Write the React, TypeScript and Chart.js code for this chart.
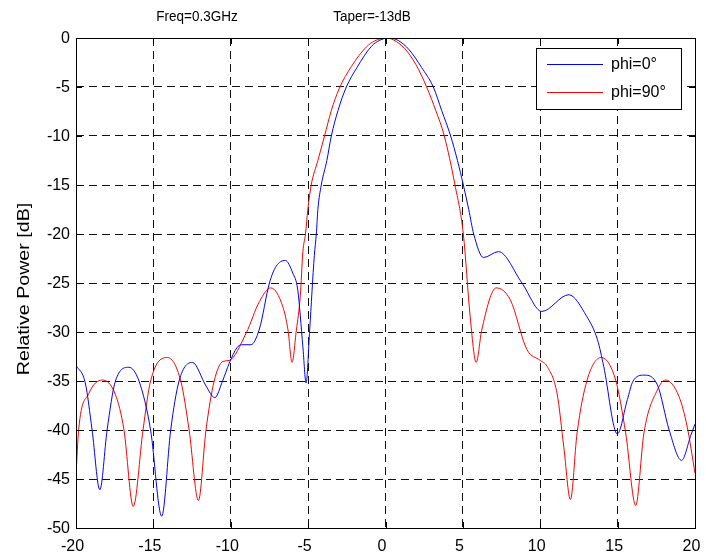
import React, { useEffect, useRef } from "react";
import { Chart, registerables } from "chart.js";

Chart.register(...registerables);

const xTickValues = [-20, -15, -10, -5, 0, 5, 10, 15, 20];
const yTickValues = [0, -5, -10, -15, -20, -25, -30, -35, -40, -45, -50];

const seriesLabels = ["phi=0°", "phi=90°"];
const titleLeft = "Freq=0.3GHz";
const titleRight = "Taper=-13dB";
const yAxisLabel = "Relative Power [dB]";

const phi0Angles = [
  -20, -19.4, -18.96, -18.46, -17.99, -17.45, -16.58, -15.93, -15.18, -14.46, -13.88, -13.34, -12.48,
  -11.6, -11.03, -10.53, -10.1, -9.6, -9.3, -8.7, -8.15, -7.5, -7.07, -6.47, -5.99, -5.67, -5.34, -5.13,
  -4.9, -4.6, -4.47, -4.37, -4.15, -3.79, -3.5, -3.07, -2.53, -1.84, -0.91, -0.37, 0.2, 0.82, 1.53, 2.33, 3.09,
  3.63, 4.21, 4.65, 5.03, 5.38, 5.7, 6.33, 7.3,
  8.82, 10.1, 11.84, 13.0, 13.7, 14.1, 14.98, 15.63, 16.0, 16.7, 17.57, 18.33, 19.13, 19.74, 20,
];
const phi0Power = [
  -33.4, -35.2, -40, -46.1, -40, -35, -33.6, -35, -40, -48.8, -40, -35, -33.1,
  -35.5, -36.7, -35, -33.2, -31.6, -31.3, -31.3, -29.7, -25.0, -23.3, -22.7, -24.0, -25.7, -31.5, -35.2,
  -29.8, -22.2, -20, -17.5, -15, -12.5, -10, -7.4, -5, -3.0, -0.85, -0.23, 0, -0.25, -1.2, -3.0, -5,
  -7.4, -10, -12.5, -15, -17.5, -20, -22.4, -21.8,
  -25.0, -27.9, -26.2, -28.4, -30.8, -33.5, -40.4, -36.9, -35, -34.4, -35.4, -40, -43.1, -40.5, -39.4,
];

const phi90Angles = [
  -20, -19.83, -19.18, -18.3, -17.45, -16.9, -16.3, -15.67, -15.18, -14.1, -13.23, -12.69, -12.09,
  -11.6, -11.07, -10.5, -10.1, -9.0, -8.15, -7.41, -6.64, -6.3, -6.04, -5.76, -5.51, -5.34, -5.17,
  -5.02, -4.8, -4.37, -3.94, -3.5, -3.0, -2.2, -1.23, -0.69, 0, 0.5, 1.25, 1.96, 2.66, 3.25, 3.8, 4.49, 5.03,
  5.47, 5.86, 6.22, 7.15, 8.06,
  9.14, 10.0, 10.44, 11.09, 11.52, 11.95, 12.38, 13.03, 13.94, 14.87, 15.52, 16.17, 16.7, 17.57, 18.1,
  18.97, 19.5, 20,
];
const phi90Power = [
  -44.6, -40, -36.3, -34.9, -36.4, -40, -47.8, -40, -35, -32.6, -35, -40, -47.2,
  -40, -35, -33.0, -32.9, -30.1, -26.9, -25.5, -27.4, -29.8, -33.1, -29.8, -26.4, -21.8, -20,
  -17.5, -15, -12.5, -10, -7.4, -5.2, -2.9, -0.9, -0.29, 0, -0.18, -1.1, -2.7, -5, -7.4, -10, -15, -20,
  -28.4, -33.1, -29.8, -25.5, -26.7,
  -31.8, -32.9, -33.5, -36.3, -41.7, -47.1, -40.3, -34.9, -32.6, -34.9, -40.3, -47.7, -40.3, -35.9, -34.9,
  -36.6, -39.7, -44.4,
];

const seriesColors = ["#0000ff", "#ff0000"];
const FONT = "'Liberation Sans', Arial, Helvetica, sans-serif";

const decorPlugin = {
  id: "decor",
  afterDraw(chart: any) {
    const { ctx, chartArea } = chart;
    const { left, right, top, bottom } = chartArea;
    const xs = chart.scales.x;
    const ys = chart.scales.y;
    ctx.save();
    // frame
    ctx.strokeStyle = "#000";
    ctx.lineWidth = 1;
    ctx.setLineDash([]);
    ctx.strokeRect(Math.round(left) + 0.5, Math.round(top) + 0.5, Math.round(right - left), Math.round(bottom - top));
    // inward ticks
    const tl = 6;
    ctx.beginPath();
    xTickValues.forEach((v) => {
      const px = Math.round(xs.getPixelForValue(v)) + 0.5;
      ctx.moveTo(px, bottom);
      ctx.lineTo(px, bottom - tl);
      ctx.moveTo(px, top);
      ctx.lineTo(px, top + tl);
    });
    yTickValues.forEach((v) => {
      const py = Math.round(ys.getPixelForValue(v)) + 0.5;
      ctx.moveTo(left, py);
      ctx.lineTo(left + tl, py);
      ctx.moveTo(right, py);
      ctx.lineTo(right - tl, py);
    });
    ctx.stroke();

    // titles
    ctx.fillStyle = "#000";
    ctx.textAlign = "center";
    ctx.textBaseline = "middle";
    ctx.save();
    ctx.font = `13.5px ${FONT}`;
    ctx.translate(0, 17);
    ctx.scale(1, 1.08);
    ctx.fillText(titleLeft, 197, 0);
    ctx.fillText(titleRight, 372, 0);
    ctx.restore();

    // y axis label
    ctx.save();
    ctx.font = `16.5px ${FONT}`;
    ctx.translate(24, 289);
    ctx.rotate(-Math.PI / 2);
    ctx.scale(1.19, 1);
    ctx.fillText(yAxisLabel, 0, 0);
    ctx.restore();

    // legend
    const lx = 536, ly = 48, lw = 145, lh = 61;
    ctx.fillStyle = "#fff";
    ctx.fillRect(lx, ly, lw, lh);
    ctx.strokeStyle = "#000";
    ctx.strokeRect(lx + 0.5, ly + 0.5, lw, lh);
    ctx.textAlign = "left";
    ctx.font = `16px ${FONT}`;
    seriesLabels.forEach((label, i) => {
      const yy = 64 + i * 27.5;
      ctx.strokeStyle = seriesColors[i];
      ctx.beginPath();
      ctx.moveTo(547, Math.round(yy) + 0.5);
      ctx.lineTo(603, Math.round(yy) + 0.5);
      ctx.stroke();
      ctx.fillStyle = "#000";
      ctx.fillText(label, 611, yy + 1);
    });
    ctx.restore();
  },
};

export default function App() {
  const canvasRef = useRef<HTMLCanvasElement | null>(null);

  useEffect(() => {
    document.body.style.margin = "0";
    const canvas = canvasRef.current;
    if (!canvas) return;
    const chart = new Chart(canvas, {
      type: "line",
      data: {
        datasets: [
          {
            label: seriesLabels[0],
            data: phi0Angles.map((x, i) => ({ x, y: phi0Power[i] })),
            borderColor: seriesColors[0],
            borderWidth: 1,
            pointRadius: 0,
            fill: false,
            cubicInterpolationMode: "monotone",
          },
          {
            label: seriesLabels[1],
            data: phi90Angles.map((x, i) => ({ x, y: phi90Power[i] })),
            borderColor: seriesColors[1],
            borderWidth: 1,
            pointRadius: 0,
            fill: false,
            cubicInterpolationMode: "monotone",
          },
        ],
      },
      options: {
        responsive: false,
        animation: false,
        devicePixelRatio: 1,
        layout: { padding: { left: 0, right: 11, top: 38, bottom: 0 } },
        plugins: {
          legend: { display: false },
          title: { display: false },
          tooltip: { enabled: false },
        },
        scales: {
          x: {
            type: "linear",
            min: -20,
            max: 20,
            afterFit: (scale: any) => {
              scale.height = 28;
              scale.paddingLeft = 0;
              scale.paddingRight = 0;
            },
            afterBuildTicks: (scale: any) => {
              scale.ticks = xTickValues.map((v) => ({ value: v }));
            },
            ticks: {
              color: "#000",
              font: { family: FONT, size: 16 },
              padding: 9,
              labelOffset: -3.5,
              maxRotation: 0,
              autoSkip: false,
            },
            grid: { color: "#111", lineWidth: 1, drawTicks: false },
            border: { display: false, dash: [8, 5] },
          },
          y: {
            type: "linear",
            min: -50,
            max: 0,
            afterFit: (scale: any) => {
              scale.width = 76;
              scale.paddingTop = 0;
              scale.paddingBottom = 0;
            },
            afterBuildTicks: (scale: any) => {
              scale.ticks = yTickValues.map((v) => ({ value: v }));
            },
            ticks: {
              color: "#000",
              font: { family: FONT, size: 16 },
              padding: 6,
              labelOffset: 1,
              autoSkip: false,
            },
            grid: { color: "#111", lineWidth: 1, drawTicks: false },
            border: { display: false, dash: [8, 5] },
          },
        },
      },
      plugins: [decorPlugin],
    } as any);
    return () => chart.destroy();
  }, []);

  return (
    <div style={{ position: "absolute", left: 0, top: 0, width: 706, height: 556, background: "#fff" }}>
      <canvas ref={canvasRef} width={706} height={556} style={{ display: "block" }} />
    </div>
  );
}
